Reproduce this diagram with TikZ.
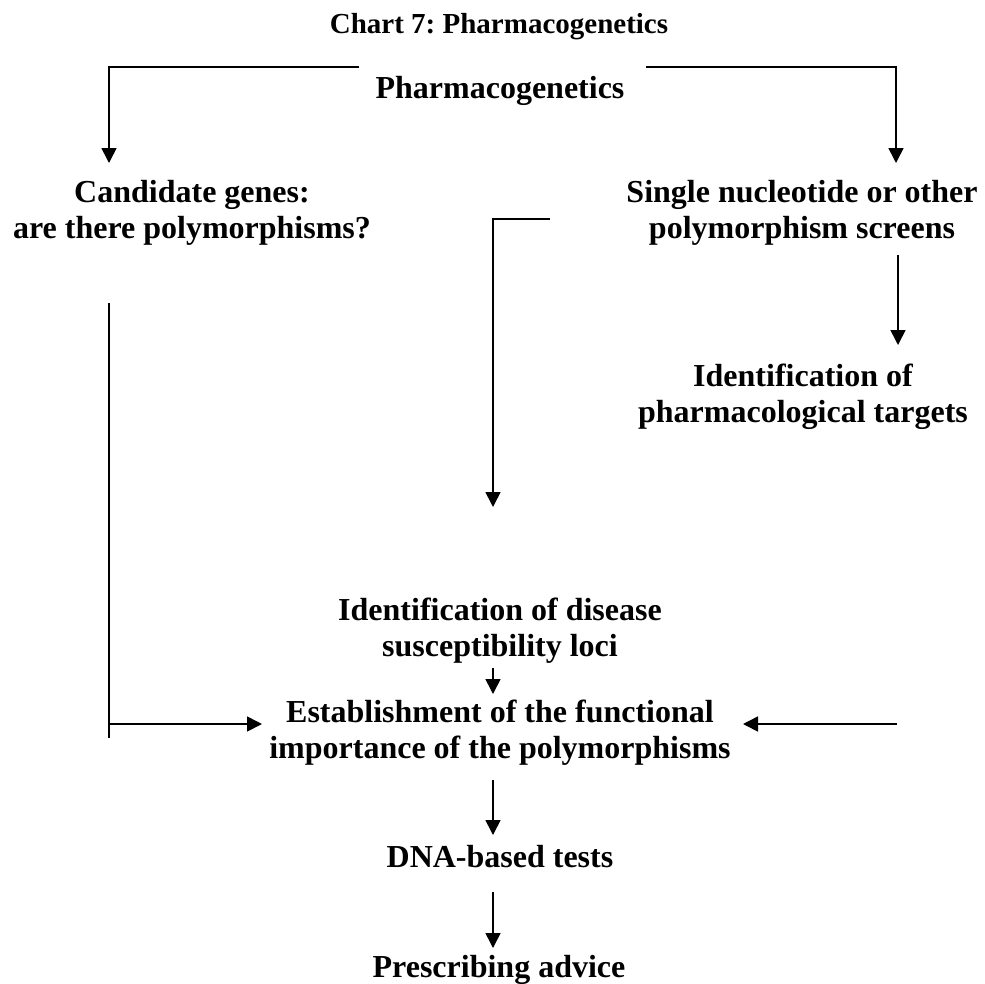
\documentclass[tikz,border=0pt]{standalone}
\usepackage{fontspec}
\setmainfont{Liberation Serif}
\usetikzlibrary{arrows.meta}
\begin{document}
\frenchspacing
\begin{tikzpicture}[x=1pt,y=-1pt,
  txt/.style={font=\bfseries\fontsize{32}{36}\selectfont,align=center,inner sep=0pt,anchor=base},
  ttl/.style={font=\bfseries\fontsize{29}{33}\selectfont,inner sep=0pt,anchor=base},
  ln/.style={line width=1.6pt},
  arr/.style={ln,-{Triangle[width=15pt,length=15pt]}}]
\useasboundingbox[fill=white] (0,0) rectangle (985,983);
% nodes (anchor base = baseline of the last line)
\node[ttl] (title) at (499,33) {Chart 7: Pharmacogenetics};
\node[txt] (pg) at (500,98) {Pharmacogenetics};
\node[txt] (cand) at (192,238) {Candidate genes:\\are there polymorphisms?};
\node[txt] (snp) at (802,238) {Single nucleotide or other\\polymorphism screens};
\node[txt] (targ) at (803,422) {Identification of\\pharmacological targets};
\node[txt] (loci) at (500,656) {Identification of disease\\susceptibility loci};
\node[txt] (est) at (500,758) {Establishment of the functional\\importance of the polymorphisms};
\node[txt] (dna) at (500,867) {DNA-based tests};
\node[txt] (adv) at (499,977) {Prescribing advice};
% coordinates
\coordinate (pgL) at (359,67);
\coordinate (pgLc) at (109,67);
\coordinate (candT) at (109,163);
\coordinate (pgR) at (646,67);
\coordinate (pgRc) at (896,67);
\coordinate (snpT) at (896,163);
\coordinate (snpB) at (898,255);
\coordinate (targT) at (898,345);
\coordinate (elS) at (550,219);
\coordinate (elC) at (493,219);
\coordinate (lociT) at (493,507);
\coordinate (lociB) at (493,668);
\coordinate (estT) at (493,694);
\coordinate (candB) at (109,303);
\coordinate (lc) at (109,724);
\coordinate (lcB) at (109,738);
\coordinate (estL) at (262,724);
\coordinate (rS) at (897,724);
\coordinate (estR) at (743,724);
\coordinate (estB) at (493,780);
\coordinate (dnaT) at (493,835);
\coordinate (dnaB) at (493,892);
\coordinate (advT) at (493,948);
% connectors
\draw[arr] (pgL) -- (pgLc) -- (candT);
\draw[arr] (pgR) -- (pgRc) -- (snpT);
\draw[arr] (snpB) -- (targT);
\draw[arr] (elS) -- (elC) -- (lociT);
\draw[arr] (lociB) -- (estT);
\draw[ln] (candB) -- (lcB);
\draw[arr] (lc) -- (estL);
\draw[arr] (rS) -- (estR);
\draw[arr] (estB) -- (dnaT);
\draw[arr] (dnaB) -- (advT);
\end{tikzpicture}
\end{document}
